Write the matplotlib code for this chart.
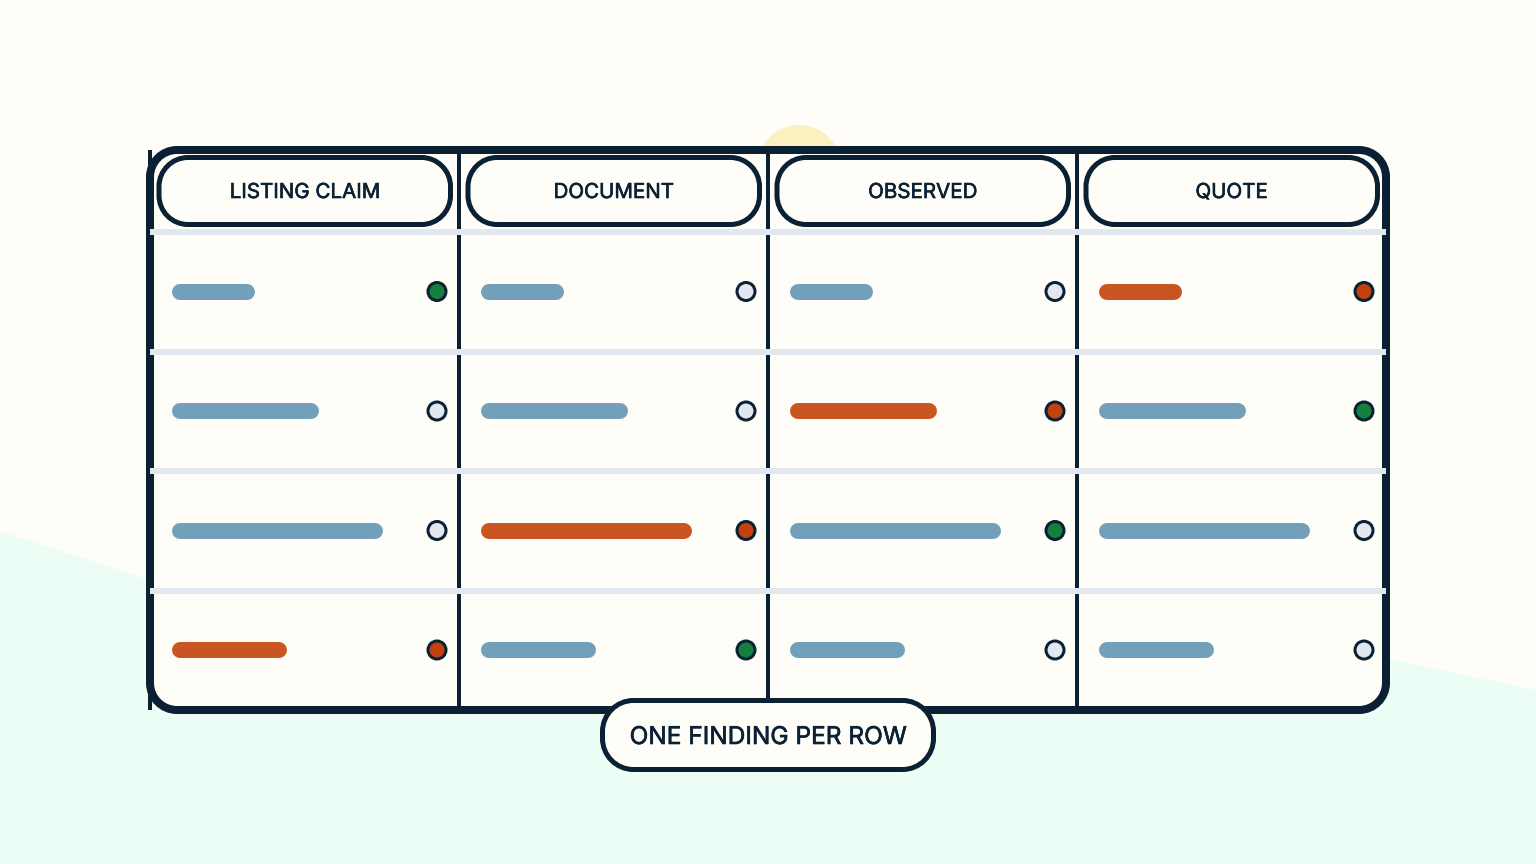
import matplotlib
matplotlib.use("Agg")
import matplotlib.pyplot as plt
import matplotlib.patheffects as pe
from matplotlib.patches import Circle, PathPatch, Polygon
from matplotlib.path import Path

plt.rcParams["font.family"] = ["Inter", "DejaVu Sans"]

# Datos de la tabla
columnas = ["LISTING CLAIM", "DOCUMENT", "OBSERVED", "QUOTE"]
nota = "ONE FINDING PER ROW"
largo_barras = [83, 147, 211, 115]  # un largo por fila
# n = vacio, v = verde, r = rojo
estados = [
    ["v", "n", "n", "r"],
    ["n", "n", "r", "v"],
    ["n", "r", "v", "n"],
    ["r", "v", "n", "n"],
]

FONDO = "#fffdf8"
MENTA = "#ecfdf5"
OSCURO = "#0a2033"
GRIS = "#e2e8f0"
AZUL = "#729fb9"
NARANJA = "#c95622"
color_punto = {"n": GRIS, "v": "#15803d", "r": "#c2410c"}

PX = 72 / 100  # puntos por pixel

fig = plt.figure(figsize=(15.36, 8.64), dpi=100, facecolor=FONDO)
ax = fig.add_axes([0, 0, 1, 1])
ax.set_xlim(0, 1536)
ax.set_ylim(864, 0)
ax.axis("off")


def caja(x0, y0, x1, y1, r, lw, z=3):
    # rectangulo con esquinas circulares de verdad
    k = r * 0.4477
    verts = [(x0 + r, y0), (x1 - r, y0),
             (x1 - k, y0), (x1, y0 + k), (x1, y0 + r),
             (x1, y1 - r),
             (x1, y1 - k), (x1 - k, y1), (x1 - r, y1),
             (x0 + r, y1),
             (x0 + k, y1), (x0, y1 - k), (x0, y1 - r),
             (x0, y0 + r),
             (x0, y0 + k), (x0 + k, y0), (x0 + r, y0),
             (x0 + r, y0)]
    codes = [Path.MOVETO, Path.LINETO,
             Path.CURVE4, Path.CURVE4, Path.CURVE4,
             Path.LINETO,
             Path.CURVE4, Path.CURVE4, Path.CURVE4,
             Path.LINETO,
             Path.CURVE4, Path.CURVE4, Path.CURVE4,
             Path.LINETO,
             Path.CURVE4, Path.CURVE4, Path.CURVE4,
             Path.CLOSEPOLY]
    ax.add_patch(PathPatch(Path(verts, codes), fc=FONDO, ec=OSCURO, lw=lw * PX, zorder=z))


def texto(x, y, s, size, z):
    t = ax.text(x, y, s, ha="center", va="center_baseline", fontsize=size, color=OSCURO, zorder=z)
    t.set_path_effects([pe.withStroke(linewidth=0.45, foreground=OSCURO)])


# Fondo
ax.add_patch(Polygon([(0, 531), (146, 579), (1390, 659), (1536, 690), (1536, 864), (0, 864)],
                     fc=MENTA, ec="none", zorder=0))
ax.add_patch(Circle((799, 167), 42, fc="#fdf0c0", ec="none", zorder=1))

# Tabla
izq, der, arr, aba = 150, 1386, 150, 710
ancho_col = (der - izq) / len(columnas)
caja(izq, arr, der, aba, 27, 8, z=2)

for i in range(len(columnas)):
    x = izq + ancho_col * i
    ax.plot([x, x], [arr, aba], color=OSCURO, lw=4 * PX, solid_capstyle="butt", zorder=3)

filas_y = [232, 351.5, 471, 590.5]
for y in filas_y:
    ax.plot([izq, der], [y, y], color=GRIS, lw=6 * PX, solid_capstyle="butt", zorder=4)

for i, nombre in enumerate(columnas):
    x = izq + ancho_col * i
    caja(x + 9, 157.5, x + 300.5, 224.5, 29, 5, z=5)
    texto(x + 154.5, 191, nombre, 14.8, 6)

    for f, largo in enumerate(largo_barras):
        y = filas_y[f] + 59.5
        est = estados[f][i]
        ax.plot([x + 30, x + 22 + largo - 8], [y, y], color=NARANJA if est == "r" else AZUL,
                lw=16 * PX, solid_capstyle="round", zorder=5)
        ax.add_patch(Circle((x + 287, y), 9, fc=color_punto[est], ec=OSCURO, lw=3 * PX, zorder=5))

# Nota de abajo
caja(602.5, 700.5, 933.5, 769.5, 31, 5, z=7)
texto(768, 735, nota, 17.6, 8)

fig.savefig("out.png", dpi=100, facecolor=FONDO)
